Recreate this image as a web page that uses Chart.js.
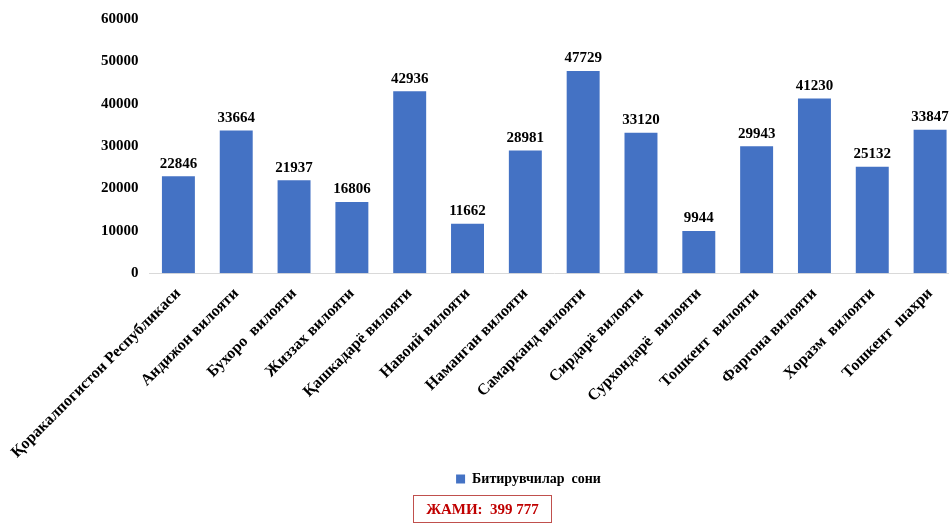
<!DOCTYPE html>
<html>
<head>
<meta charset="utf-8">
<script src="https://cdn.jsdelivr.net/npm/chart.js@4"></script>
<style>
  body { margin: 0; background: #fff; width: 949px; height: 523px; overflow: hidden; position: relative; }
  #wrap { position: absolute; left: 0; top: 0; width: 959px; height: 496px; }
  #total {
    position: absolute; left: 413px; top: 495px; width: 137px; height: 26px;
    border: 1px solid #c0504d; color: #c00000; font: bold 15px "Liberation Serif", serif;
    text-align: center; line-height: 26px; box-sizing: content-box;
  }
</style>
</head>
<body>
<div id="wrap"><canvas id="chart"></canvas></div>
<div id="total">ЖАМИ:&nbsp; 399 777</div>
<script>
  // regions
  const regions = [
    "Қоракалпогистон Республикаси", "Андижон вилояти", "Бухоро  вилояти", "Жиззах вилояти",
    "Қашкадарё вилояти", "Навоий вилояти", "Наманган вилояти", "Самарканд вилояти",
    "Сирдарё вилояти", "Сурхондарё  вилояти", "Тошкент  вилояти", "Фаргона вилояти",
    "Хоразм  вилояти", "Тошкент  шахри"
  ];
  const graduates = [22846, 33664, 21937, 16806, 42936, 11662, 28981, 47729, 33120, 9944, 29943, 41230, 25132, 33847];
  const yTicks = [0, 10000, 20000, 30000, 40000, 50000, 60000];

  const serif = "'Liberation Serif', 'Times New Roman', serif";

  // value labels above bars
  const valueLabels = {
    id: 'valueLabels',
    afterDatasetsDraw(chart) {
      const c = chart.ctx;
      c.save();
      c.font = "bold 15px " + serif;
      c.fillStyle = "#000";
      c.textAlign = "center";
      c.textBaseline = "bottom";
      chart.getDatasetMeta(0).data.forEach((bar, i) => {
        c.fillText(graduates[i], bar.x, bar.y - 5);
      });
      c.restore();
    }
  };

  new Chart(document.getElementById('chart'), {
    type: 'bar',
    data: {
      labels: regions,
      datasets: [{
        label: 'Битирувчилар  сони',
        data: graduates,
        backgroundColor: '#4472C4',
        barPercentage: 0.57,
        categoryPercentage: 1
      }]
    },
    options: {
      responsive: true,
      maintainAspectRatio: false,
      animation: false,
      layout: { padding: { left: 98, top: 19, right: 0, bottom: 0 } },
      plugins: {
        legend: {
          position: 'bottom',
          labels: { font: { family: serif, size: 14, weight: 'bold' }, color: '#000', boxWidth: 9, boxHeight: 9, padding: 7 }
        },
        tooltip: { enabled: false }
      },
      scales: {
        x: {
          grid: { display: false },
          border: { color: '#d9d9d9' },
          ticks: { color: '#000', font: { family: serif, size: 16, weight: 'bold' }, minRotation: 45, maxRotation: 45, autoSkip: false }
        },
        y: {
          min: 0, max: 60000,
          afterBuildTicks: axis => { axis.ticks = yTicks.map(v => ({ value: v })); },
          grid: { display: false },
          border: { display: false },
          ticks: { color: '#000', font: { family: serif, size: 15, weight: 'bold' }, padding: 3, callback: v => String(v) }
        }
      }
    },
    plugins: [valueLabels]
  });
</script>
</body>
</html>
